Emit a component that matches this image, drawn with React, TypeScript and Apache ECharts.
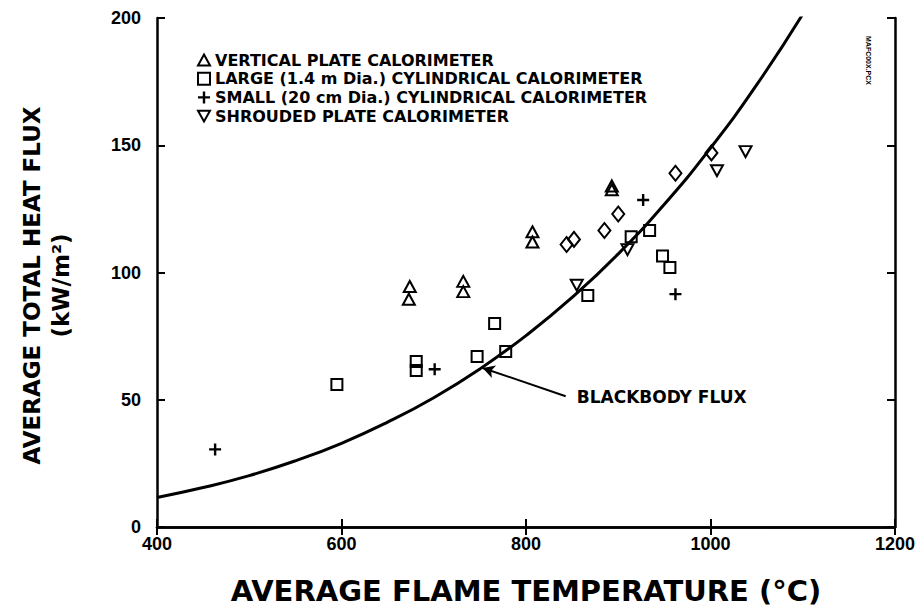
import React, { useEffect, useRef } from "react";
import * as echarts from "echarts";

const xTicks = [400, 600, 800, 1000, 1200];
const yTicks = [0, 50, 100, 150, 200];

const verticalPlate: number[][] = [
  [674, 94.5], [673, 89.5], [732, 96.5], [732, 92.5], [807, 116], [807, 112], [893, 134], [893, 132.5],
];
const largeCyl: number[][] = [
  [595, 56], [681, 65], [681, 61.5], [747, 67], [766, 80], [778, 69], [867, 91], [914, 114], [934, 116.5], [948, 106.5], [956, 102],
];
const smallCyl: number[][] = [
  [463, 30.5], [701, 62], [927, 128.5], [962, 91.5],
];
const shrouded: number[][] = [
  [855, 95], [910, 109], [1007, 140], [1038, 147.5],
];
const diamonds: number[][] = [
  [844, 111], [852, 113], [885, 116.5], [900, 123], [962, 139], [1001, 147],
];
const curveTemp = [400, 450, 500, 550, 600, 650, 700, 750, 800, 850, 900, 950, 1000, 1050, 1100];
const curveFlux = [11.6, 15.5, 20.2, 26.0, 32.9, 41.2, 50.8, 62.1, 75.2, 90.2, 107.3, 126.8, 148.9, 173.7, 201.5];
const arrowFrom = [843, 51.4];
const arrowTo = [753, 62.5];
const annotationAt = [855, 51];
const annotationText = "BLACKBODY FLUX";

const legendNames = [
  "VERTICAL PLATE CALORIMETER",
  "LARGE (1.4 m Dia.) CYLINDRICAL CALORIMETER",
  "SMALL (20 cm Dia.) CYLINDRICAL CALORIMETER",
  "SHROUDED PLATE CALORIMETER",
];

const PLUS = "path://M4,0h2v4h4v2h-4v4h-2v-4h-4v-2h4z";
const INV_TRI = "path://M0,0L10,0L5,9Z";
const TRI = "path://M5,0L10,9L0,9Z";

export default function App() {
  const ref = useRef<HTMLDivElement>(null);
  useEffect(() => {
    if (!ref.current) return;
    const chart = echarts.init(ref.current, undefined, { renderer: "svg" });
    const hollow = { color: "rgba(0,0,0,0)", borderColor: "#000", borderWidth: 2, opacity: 1 };
    const axisLine = { show: true, lineStyle: { color: "#000", width: 2.5 } };
    const tickIn = { show: true, inside: true, length: 8, lineStyle: { color: "#000", width: 2 } };
    const labelFont = { fontFamily: "Liberation Sans", fontWeight: "bold" as const, fontSize: 18, color: "#000" };
    chart.setOption({
      animation: false,
      backgroundColor: "#fff",
      grid: { left: 157, right: 29, top: 18, bottom: 82 },
      legend: {
        orient: "vertical",
        left: 197,
        top: 52,
        padding: 0,
        itemGap: 2.7,
        itemWidth: 12,
        itemHeight: 12,
        textStyle: { fontFamily: "DejaVu Sans", fontWeight: "bold", fontSize: 16, color: "#000" },
        data: [
          { name: legendNames[0], icon: TRI, itemStyle: hollow },
          { name: legendNames[1], icon: "rect", itemStyle: hollow },
          { name: legendNames[2], icon: PLUS, itemStyle: { color: "#000", borderWidth: 0 } },
          { name: legendNames[3], icon: INV_TRI, itemStyle: hollow },
        ],
      },
      xAxis: [
        {
          type: "value",
          min: xTicks[0],
          max: xTicks[xTicks.length - 1],
          interval: 200,
          axisLine,
          axisTick: tickIn,
          splitLine: { show: false },
          axisLabel: { ...labelFont, margin: 8, formatter: (v: number) => String(v) },
          name: "AVERAGE FLAME TEMPERATURE (°C)",
          nameLocation: "middle",
          nameGap: 49,
          nameTextStyle: { fontFamily: "DejaVu Sans", fontWeight: "bold", fontSize: 29, color: "#000" },
        },
        {
          type: "value",
          position: "top",
          min: xTicks[0],
          max: xTicks[xTicks.length - 1],
          interval: 200,
          axisLine,
          axisTick: tickIn,
          splitLine: { show: false },
          axisLabel: { show: false },
        },
      ],
      yAxis: [
        {
          type: "value",
          min: yTicks[0],
          max: yTicks[yTicks.length - 1],
          interval: 50,
          axisLine,
          axisTick: tickIn,
          splitLine: { show: false },
          axisLabel: { ...labelFont, margin: 16, formatter: (v: number) => String(v) },
          name: "AVERAGE TOTAL HEAT FLUX\n(kW/m²)",
          nameLocation: "middle",
          nameRotate: 90,
          nameGap: 82,
          nameTextStyle: { fontFamily: "DejaVu Sans", fontWeight: "bold", fontSize: 23, lineHeight: 29, color: "#000", padding: [0, 26, 0, 0] },
        },
        {
          type: "value",
          position: "right",
          min: yTicks[0],
          max: yTicks[yTicks.length - 1],
          interval: 50,
          axisLine,
          axisTick: tickIn,
          splitLine: { show: false },
          axisLabel: { show: false },
        },
      ],
      series: [
        {
          type: "line",
          name: "Blackbody flux",
          data: curveTemp.map((t, i) => [t, curveFlux[i]]),
          smooth: true,
          showSymbol: false,
          symbol: "none",
          clip: true,
          lineStyle: { color: "#000", width: 3 },
          z: 3,
          markLine: {
            silent: true,
            symbol: ["none", "arrow"],
            symbolSize: [10, 12],
            label: { show: false },
            lineStyle: { color: "#000", width: 2, type: "solid" },
            data: [[{ coord: arrowFrom }, { coord: arrowTo }]],
          },
        },
        { type: "scatter", name: legendNames[0], data: verticalPlate, symbol: TRI, symbolSize: [12, 11], itemStyle: hollow, z: 4 },
        { type: "scatter", name: legendNames[1], data: largeCyl, symbol: "rect", symbolSize: 11, itemStyle: hollow, z: 4 },
        { type: "scatter", name: legendNames[2], data: smallCyl, symbol: PLUS, symbolSize: 12, itemStyle: { color: "#000", opacity: 1 }, z: 4 },
        { type: "scatter", name: legendNames[3], data: shrouded, symbol: INV_TRI, symbolSize: [12, 11], itemStyle: hollow, z: 4 },
        { type: "scatter", name: "Other", data: diamonds, symbol: "diamond", symbolSize: [12, 15], itemStyle: hollow, z: 4 },
        {
          type: "scatter",
          name: "annotation",
          data: [annotationAt],
          symbolSize: 0,
          silent: true,
          itemStyle: { opacity: 1 },
          label: {
            show: true,
            position: "right",
            distance: 0,
            formatter: annotationText,
            fontFamily: "DejaVu Sans",
            fontWeight: "bold",
            fontSize: 17,
            color: "#000",
          },
        },
      ],
      graphic: [
        {
          type: "text",
          x: 872,
          y: 36,
          rotation: -Math.PI / 2,
          style: { text: "MAFC00X.PCX", fontSize: 7, fontWeight: "bold", fontFamily: "Liberation Sans", fill: "#000" },
        },
      ],
    });
    return () => chart.dispose();
  }, []);
  return <div ref={ref} style={{ position: "absolute", left: 0, top: 0, width: 924, height: 610 }} />;
}
